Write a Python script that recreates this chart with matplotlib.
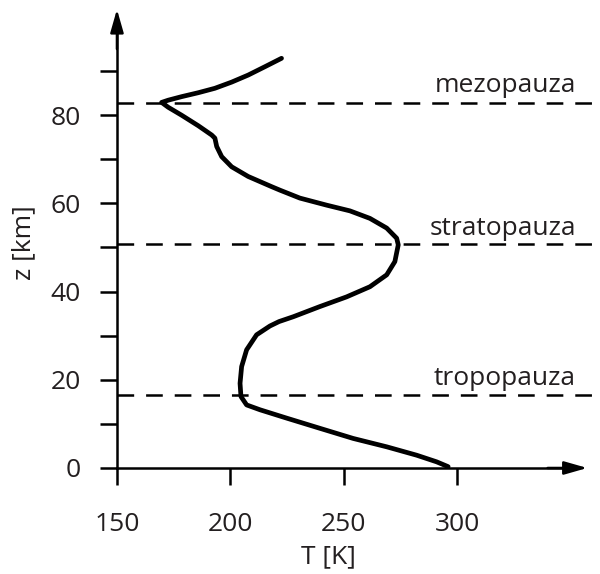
import matplotlib

matplotlib.use("Agg")
import matplotlib.pyplot as plt

plt.rcParams["font.family"] = ["Open Sans", "DejaVu Sans"]
plt.rcParams["lines.scale_dashes"] = False

# temperature profile of the atmosphere (bottom to top)
temp_k = [296.1, 291.0, 282.2, 269.0, 254.2, 239.5, 224.9, 213.1, 207.2, 204.7,
          204.3, 205.0, 207.2, 211.6, 217.5, 221.5, 227.8, 239.5, 251.3, 261.6,
          269.0, 272.6, 274.1, 273.4, 269.0, 261.6, 252.8, 242.5, 230.7, 221.9,
          218.2, 207.9, 200.6, 196.2, 194.0, 193.2, 191.8, 185.9, 178.5, 172.6,
          169.7, 172.6, 178.5, 185.9, 193.2, 200.6, 207.9, 215.3, 222.6]
height_km = [0.3, 1.4, 2.9, 4.8, 6.7, 9.0, 11.3, 13.2, 14.3, 16.2,
             19.2, 23.0, 26.8, 30.2, 32.2, 33.2, 34.3, 36.6, 38.8, 41.1,
             43.8, 46.8, 50.6, 52.1, 54.4, 56.6, 58.3, 59.6, 61.2, 63.0,
             63.8, 66.1, 68.3, 70.6, 72.9, 74.8, 75.5, 77.6, 80.0, 81.8,
             82.9, 83.4, 84.2, 85.1, 86.1, 87.5, 89.1, 91.0, 92.9]

pause_names = ["tropopauza", "stratopauza", "mezopauza"]
pause_heights = [16.6, 50.8, 82.8]
label_heights = [18.8, 52.8, 85.2]

x_ticks = [150, 200, 250, 300]
y_major = [0, 20, 40, 60, 80]
y_minor = [10, 30, 50, 70, 90]

TEXT = "#231f20"

fig = plt.figure(figsize=(6, 5.74), dpi=100)
ax = fig.add_axes([0, 0, 1, 1])
ax.set_xlim(98.4, 363.1)
ax.set_ylim(-24.04, 106.12)
ax.patch.set_visible(False)

for side in ("top", "right"):
    ax.spines[side].set_visible(False)
ax.spines["left"].set_position(("data", 150))
ax.spines["bottom"].set_position(("data", 0))
ax.spines["left"].set_bounds(0, 100)
ax.spines["bottom"].set_bounds(150, 350)
for side in ("left", "bottom"):
    ax.spines[side].set_linewidth(1.8)
    ax.spines[side].set_color("black")

arrow = dict(arrowstyle="-|>,head_length=14,head_width=4", mutation_scale=1,
             lw=1.8, color="black", shrinkA=0, shrinkB=0)
ax.annotate("", xy=(150, 104.0), xytext=(150, 95), arrowprops=arrow)
ax.annotate("", xy=(357.5, 0), xytext=(340, 0), arrowprops=arrow)

ax.set_xticks(x_ticks)
ax.set_yticks(y_major)
ax.set_yticks(y_minor, minor=True)
ax.tick_params(axis="both", which="both", direction="out", length=12, width=1.8,
               color="black", labelcolor=TEXT, labelsize=19)
ax.tick_params(axis="y", which="major", pad=14)
ax.tick_params(axis="x", pad=20)

for y in pause_heights:
    ax.hlines(y, 150, 363.1, colors="black", lw=1.8, linestyles=[(0, (12, 8.6))])

for name, y in zip(pause_names, label_heights):
    ax.text(352.5, y, name, ha="right", va="baseline", fontsize=19, color=TEXT)

ax.plot(temp_k, height_km, color="black", lw=3.4, solid_capstyle="round",
        solid_joinstyle="round")

fig.text(24 / 600, 1 - 243 / 574, "z [km]", rotation=90, ha="center", va="center",
         fontsize=19, color=TEXT)
ax.text(243.5, -17.4, "T [K]", ha="center", va="top", fontsize=19, color=TEXT)

fig.savefig("out.png", dpi=100)
plt.close(fig)
